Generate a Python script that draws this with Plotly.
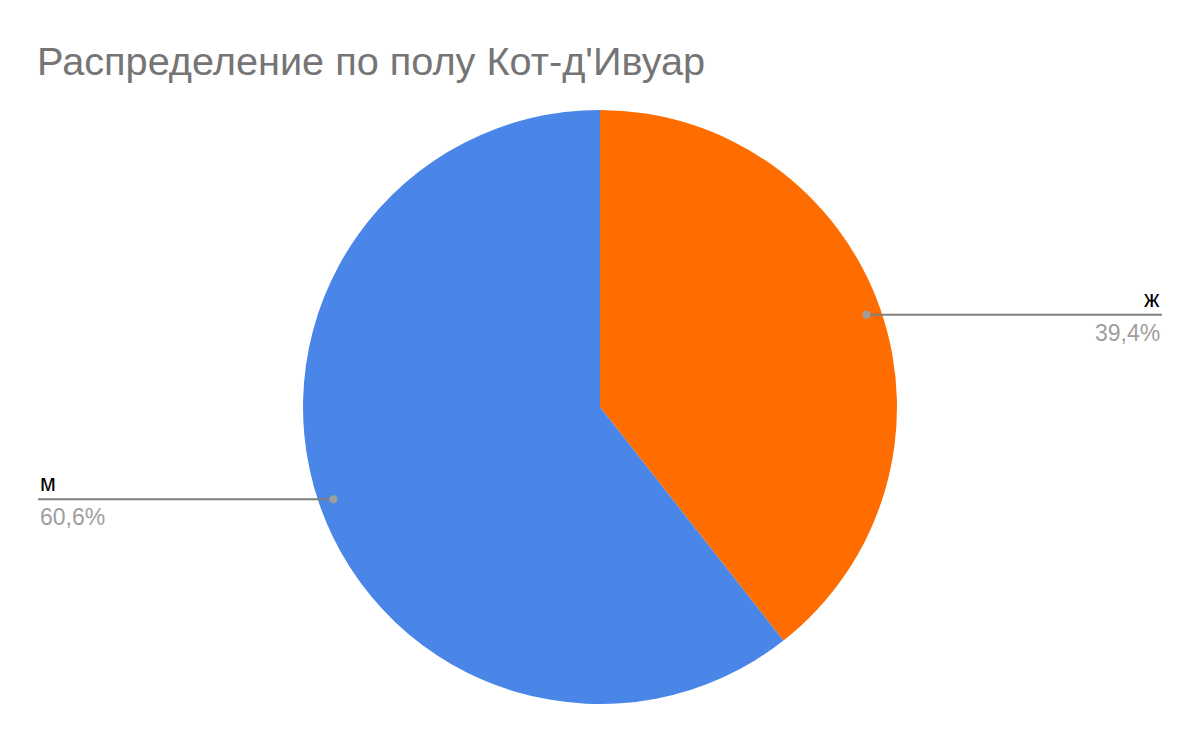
import math

import plotly.graph_objects as go

# data
labels = ["ж", "м"]
shares = [39.4, 60.6]
label_text = ["ж", "м"]
pct_text = ["39,4%", "60,6%"]
colors = ["#ff6d01", "#4a86e8"]

title = "Распределение по полу Кот-д'Ивуар"

# page body has an 8px margin, so figure coords = page coords - 8
OFF = 8
W, H = 1200 - 2 * OFF, 742 - 2 * OFF
cx, cy, R = 600 - OFF, 407 - OFF, 297
left_edge, right_edge = 38 - OFF, 1162 - OFF


def px(x):
    return x / W


def py(y):
    return 1 - y / H


fig = go.Figure(
    go.Pie(
        labels=labels,
        values=shares,
        sort=False,
        direction="clockwise",
        rotation=0,
        marker=dict(colors=colors, line=dict(width=0)),
        textinfo="none",
        hoverinfo="label+percent",
        domain=dict(x=[px(cx - R), px(cx + R)], y=[py(cy + R), py(cy - R)]),
        showlegend=False,
    )
)

shapes = []
annotations = []
total = sum(shares)
start = 0.0
for lab, val, pct in zip(label_text, shares, pct_text):
    mid = (start + val / 2) / total * 2 * math.pi
    start += val
    dx = math.sin(mid) * R * 0.95
    dy = -math.cos(mid) * R * 0.95
    x0, y0 = cx + dx, cy + dy
    right = dx > 0
    x_end = right_edge if right else left_edge
    shapes.append(dict(
        type="line", xref="paper", yref="paper",
        x0=px(x0), y0=py(y0), x1=px(x_end), y1=py(y0),
        line=dict(color="#7f7f7f", width=2),
    ))
    shapes.append(dict(
        type="circle", xref="paper", yref="paper",
        xsizemode="pixel", ysizemode="pixel",
        xanchor=px(x0), yanchor=py(y0),
        x0=-4, x1=4, y0=-4, y1=4,
        fillcolor="#9e9e9e", line=dict(width=0),
    ))
    anchor = "right" if right else "left"
    annotations.append(dict(
        text=lab, xref="paper", yref="paper",
        x=px(x_end), y=py(y0 - 1), xanchor=anchor, yanchor="bottom",
        showarrow=False,
        font=dict(family="Liberation Sans, Arial", size=23, color="#000000"),
    ))
    annotations.append(dict(
        text=pct, xref="paper", yref="paper",
        x=px(x_end), y=py(y0 + 3), xanchor=anchor, yanchor="top",
        showarrow=False,
        font=dict(family="Liberation Sans, Arial", size=23, color="#9e9e9e"),
    ))

fig.update_layout(
    width=W,
    height=H,
    margin=dict(l=0, r=0, t=0, b=0),
    paper_bgcolor="white",
    plot_bgcolor="white",
    title=dict(
        text=title,
        x=px(37 - OFF), xanchor="left", xref="paper",
        y=py(61 - OFF), yanchor="middle", yref="paper",
        font=dict(family="Liberation Sans, Arial", size=39.7, color="#757575"),
    ),
    shapes=shapes,
    annotations=annotations,
)

fig.write_html("out.html")
